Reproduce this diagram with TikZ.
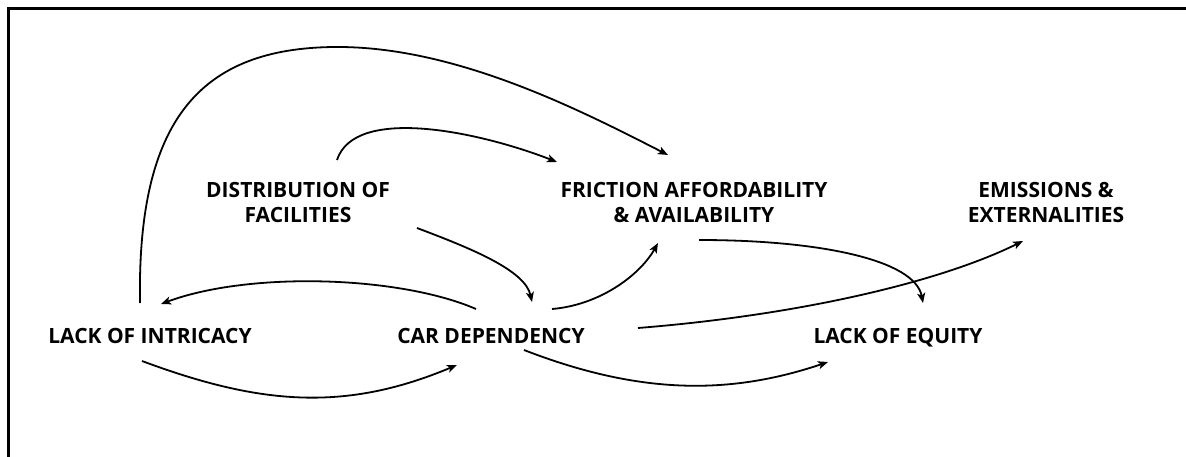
\documentclass[tikz,border=0pt]{standalone}
\usepackage{fontspec}
\setmainfont{Open Sans}
\usetikzlibrary{arrows.meta}
\tikzset{
  lbl/.style={font=\fontsize{21}{25}\selectfont\bfseries, inner sep=0pt, anchor=base, align=center},
  conn/.style={line width=1.8pt, -{Stealth[length=10pt,width=8pt,inset=2.5pt]}},
  frame/.style={line width=3pt}
}
\begin{document}
\begin{tikzpicture}[x=1pt,y=-1pt]
\useasboundingbox (0,0) rectangle (1186,457);
\fill[white] (0,0) rectangle (1186,457);
\draw[frame] (8.5,457) -- (8.5,8.5) -- (1186,8.5);

\node[lbl] (li)   at (150,343)  {LACK OF INTRICACY};
\node[lbl] (cd)   at (491,343)  {CAR DEPENDENCY};
\node[lbl] (le)   at (898,343)  {LACK OF EQUITY};
\node[lbl] (dist) at (298,223)  {DISTRIBUTION OF\\FACILITIES};
\node[lbl] (fric) at (694,223)  {FRICTION AFFORDABILITY\\\& AVAILABILITY};
\node[lbl] (emis) at (1046,223) {EMISSIONS \&\\EXTERNALITIES};

% lack of intricacy -> friction (big arc)
\draw[conn] ([shift={(-10,-40)}]li.base) .. controls (137,120) and (200,48) .. (335,47)
   .. controls (455,46) and (580,110) .. ([shift={(-26,-68)}]fric.base);
% distribution -> friction
\draw[conn] ([shift={(39,-63)}]dist.base) .. controls (355,105) and (480,132) .. ([shift={(-137,-61)}]fric.base);
% distribution -> car dependency
\draw[conn] ([shift={(119,5)}]dist.base) .. controls (470,248) and (525,270) .. ([shift={(41,-41)}]cd.base);
% car dependency -> lack of intricacy
\draw[conn] ([shift={(-15,-34)}]cd.base) .. controls (400,276) and (250,271) .. ([shift={(11,-39)}]li.base);
% lack of intricacy -> car dependency
\draw[conn] ([shift={(-8,18)}]li.base) .. controls (260,405) and (345,412) .. ([shift={(-34,22)}]cd.base);
% car dependency -> friction
\draw[conn] ([shift={(61,-34)}]cd.base) .. controls (600,305) and (640,275) .. ([shift={(-36,20)}]fric.base);
% friction -> lack of equity
\draw[conn] ([shift={(5,17)}]fric.base) .. controls (820,240) and (915,260) .. ([shift={(25,-40)}]le.base);
% car dependency -> emissions
\draw[conn] ([shift={(147,-15)}]cd.base) .. controls (800,315) and (940,282) .. ([shift={(-23,18)}]emis.base);
% car dependency -> lack of equity
\draw[conn] ([shift={(33,7)}]cd.base) .. controls (640,395) and (730,395) .. ([shift={(-70,19)}]le.base);
\end{tikzpicture}
\end{document}
